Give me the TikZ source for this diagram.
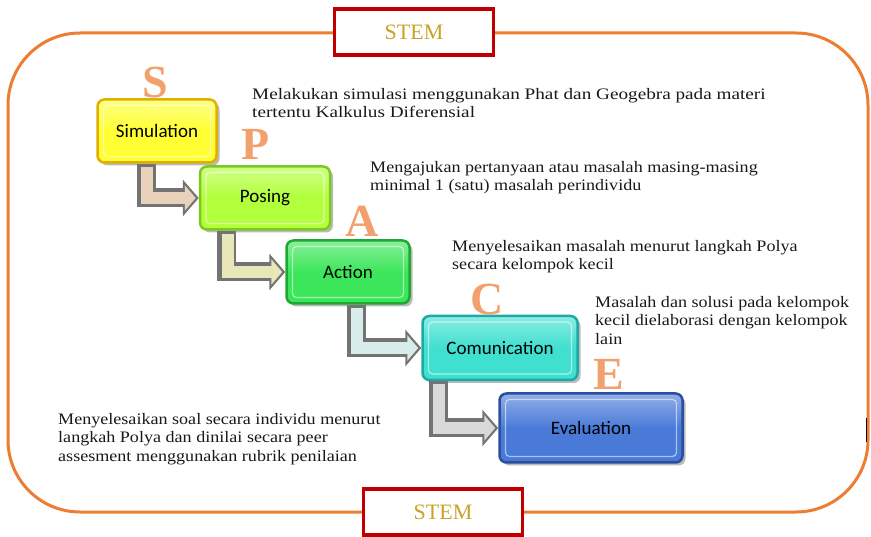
\documentclass[tikz,border=0pt]{standalone}
\usepackage{fontspec}
\setmainfont{Liberation Serif}
\newfontfamily\descfont[FakeStretch=1.13]{Liberation Serif}
\newfontfamily\descwidefont[FakeStretch=1.2]{Liberation Serif}
\newfontfamily\labelfont{Carlito}
\usetikzlibrary{arrows.meta,shadows}

\definecolor{frameorange}{HTML}{ED7D31}
\definecolor{stemred}{HTML}{C00000}
\definecolor{stemgold}{HTML}{C9A227}
\definecolor{lettercol}{HTML}{F2A06E}
\definecolor{simfill}{HTML}{FFFF33}
\definecolor{simedge}{HTML}{E0B000}
\definecolor{posfill}{HTML}{B2FF3B}
\definecolor{posedge}{HTML}{7CC81E}
\definecolor{actfill}{HTML}{3CE65A}
\definecolor{actedge}{HTML}{1FA834}
\definecolor{comfill}{HTML}{3FE0D0}
\definecolor{comedge}{HTML}{1FA8A8}
\definecolor{evafill}{HTML}{4A7AD8}
\definecolor{evaedge}{HTML}{2A4F9E}

\tikzset{
  stembox/.style={draw=stemred, line width=3.5pt, fill=white, font=\fontsize{22}{24}\selectfont,
    text=stemgold, minimum width=159pt, minimum height=46pt, inner sep=0pt},
  stepbox/.style={rounded corners=7pt, line width=2.5pt, minimum height=63pt, inner sep=0pt,
    font=\labelfont\fontsize{19}{21}\selectfont,
    drop shadow={shadow xshift=3pt, shadow yshift=-3pt, fill=black!45, opacity=0.6},
    path picture={\draw[white, opacity=0.55, line width=1.2pt, rounded corners=4pt]
      ([shift={(6pt,-6pt)}]path picture bounding box.north west) rectangle
      ([shift={(-6pt,6pt)}]path picture bounding box.south east);}},
  bigletter/.style={text=lettercol, font=\bfseries\fontsize{46}{48}\selectfont, anchor=base, inner sep=0pt},
  desc/.style={anchor=north west, align=left, inner sep=0pt, text=black!90,
    font=\descfont\fontsize{16}{18.5}\selectfont},
  arrowouter/.style={line width=19pt, draw=black!55, line join=miter,
    -{Triangle[length=16pt,width=36pt]}},
  arrowinner/.style={line width=12pt, line join=miter, shorten >=3pt,
    -{Triangle[length=11pt,width=25pt]}}
}

\begin{document}
\begin{tikzpicture}[x=1pt,y=-1pt]
  \useasboundingbox (0,0) rectangle (871,537);

  % outer frame
  \draw[frameorange, line width=3pt, rounded corners=72pt] (8,33) rectangle (868,512);

  % STEM labels
  \node[stembox] (stemtop) at (414,32) {STEM};
  \node[stembox] (stembot) at (443,512) {STEM};

  % steps
  \node[stepbox, draw=simedge, top color=simfill!60!white, bottom color=simfill,
    middle color=simfill, minimum width=119pt] (sim) at (157,131) {Simulation};
  \node[stepbox, draw=posedge, top color=posfill!60!white, bottom color=posfill,
    middle color=posfill, minimum width=130pt] (pos) at (265,198) {Posing};
  \node[stepbox, draw=actedge, top color=actfill!60!white, bottom color=actfill,
    middle color=actfill, minimum width=123pt] (act) at (348,272) {Action};
  \node[stepbox, draw=comedge, top color=comfill!60!white, bottom color=comfill,
    middle color=comfill, minimum width=155pt, minimum height=64pt] (com) at (500,348) {Comunication};
  \node[stepbox, draw=evaedge, top color=evafill!60!white, bottom color=evafill,
    middle color=evafill, minimum width=183pt, minimum height=69pt] (eva) at (591,428) {Evaluation};

  % letters
  \node[bigletter] (ls) at (155,98) {S};
  \node[bigletter] (lp) at (256,160) {P};
  \node[bigletter] (la) at (362,237) {A};
  \node[bigletter] (lc) at (487,315) {C};
  \node[bigletter] (le) at (609,390) {E};

  % bent arrows
  \draw[arrowouter] ([xshift=50pt]sim.south west) |- (pos.west);
  \draw[arrowinner, draw=brown!35!white] ([xshift=51pt,yshift=-3pt]sim.south west) |- (pos.west);
  \draw[arrowouter] ([xshift=28pt]pos.south west) |- (act.west);
  \draw[arrowinner, draw=olive!20!white] ([xshift=29pt,yshift=-3pt]pos.south west) |- (act.west);
  \draw[arrowouter] ([xshift=71pt]act.south west) |- (com.west);
  \draw[arrowinner, draw=teal!15!white] ([xshift=72pt,yshift=-3pt]act.south west) |- (com.west);
  \draw[arrowouter] ([xshift=17pt]com.south west) |- (eva.west);
  \draw[arrowinner, draw=black!15] ([xshift=18pt,yshift=-3pt]com.south west) |- (eva.west);

  % descriptions
  \node[desc, font=\descwidefont\fontsize{16}{18.5}\selectfont] (dsim) at (252,88) {Melakukan simulasi menggunakan Phat dan Geogebra pada materi\\tertentu Kalkulus Diferensial};
  \node[desc] (dpos) at (370,161) {Mengajukan pertanyaan atau masalah masing-masing\\minimal 1 (satu) masalah perindividu};
  \node[desc] (dact) at (452,240) {Menyelesaikan masalah menurut langkah Polya\\secara kelompok kecil};
  \node[desc] (dcom) at (595,296) {Masalah dan solusi pada kelompok\\kecil dielaborasi dengan kelompok\\lain};
  \node[desc] (deva) at (58,413) {Menyelesaikan soal secara individu menurut\\langkah Polya dan dinilai secara peer\\assesment menggunakan rubrik penilaian};

  \draw[black, line width=1pt] (866,418) -- (866,442);
\end{tikzpicture}
\end{document}
